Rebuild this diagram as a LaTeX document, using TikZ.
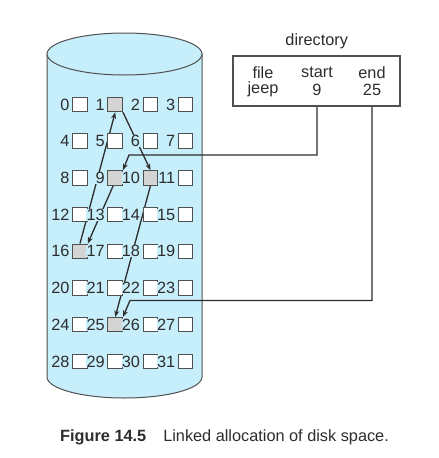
\documentclass[tikz,border=0pt]{standalone}
\usepackage{fontspec}
\setmainfont{Liberation Sans}
\usetikzlibrary{arrows.meta}
\pgfdeclarelayer{back}
\pgfdeclarelayer{mid}
\pgfsetlayers{back,mid,main}
\definecolor{cyl}{RGB}{199,238,251}
\definecolor{ink}{RGB}{45,45,45}
\definecolor{edge}{RGB}{80,80,80}
\definecolor{shadecol}{RGB}{212,212,212}
\begin{document}
\begin{tikzpicture}[x=1pt,y=-1pt,
  every node/.style={text=ink,font=\fontsize{16.3}{19}\selectfont},
  box/.style={draw=edge,fill=white,minimum size=14.5pt,inner sep=0pt,line width=1pt},
  sh1/.style={fill=shadecol}, sh9/.style={fill=shadecol}, sh10/.style={fill=shadecol},
  sh16/.style={fill=shadecol}, sh25/.style={fill=shadecol},
  lab/.style={anchor=east,inner sep=0.3pt,fill=cyl},
  link/.style={draw=ink,line width=1.3pt,-{Stealth[length=6.5pt,width=5pt]}},
  wire/.style={draw=ink,line width=1.3pt}]
\useasboundingbox (0,0) rectangle (439,458);
% cylinder
\begin{pgfonlayer}{back}
\filldraw[fill=cyl,draw=edge,line width=1pt] (47,54) -- (47,377)
  arc[start angle=180,end angle=360,x radius=77.5pt,y radius=21pt] -- (202,54) -- cycle;
\filldraw[fill=cyl,draw=edge,line width=1pt] (124.5,54) ellipse [x radius=77.5pt,y radius=21pt];
\end{pgfonlayer}
% blocks
\foreach \n in {0,...,31}{
  \pgfmathsetmacro\bx{80+35.23*mod(\n,4)}
  \pgfmathsetmacro\by{104.5+36.7*div(\n,4)}
  \node[box,sh\n/.try] (b\n) at (\bx,\by) {};
  \node[lab] (l\n) at ([xshift=-2.2pt]b\n.west) {\n};
}
% directory
\node (dirtitle) at (316.7,41.7) {directory};
\node[draw=edge,line width=1.5pt,minimum width=167pt,minimum height=50pt,inner sep=0pt] (dir) at (316.5,81) {};
\node (hfile) at (263,72.5) {file};
\node (hstart) at (317,72.5) {start};
\node (hend) at (372,72.5) {end};
\node (vjeep) at (263,89.5) {jeep};
\node (vstart) at (317,89.5) {9};
\node (vend) at (372,89.5) {25};
\coordinate (c1) at (317,155);
\coordinate (c2) at (129,155);
\coordinate (c3) at (372,300.5);
\coordinate (c4) at (130,300.5);
% links
\begin{pgfonlayer}{mid}
\draw[link] ([xshift=-2pt]b9.south) -- (b16.north east);
\draw[link] (b16.north) -- (b1.south);
\draw[link] (b1.south east) -- (b10.north);
\draw[link] (b10.south) -- (b25.north);
\draw[link] (dir.south -| vstart) -- (c1) -- (c2) -- (b9.north east);
\draw[link] (dir.south -| vend) -- (c3) -- (c4) -- (b25.north east);
\end{pgfonlayer}
% caption
\node[anchor=west,inner sep=0pt] (cap) at (60,437) {\textbf{Figure 14.5}\hspace{17pt}Linked allocation of disk space.};
\end{tikzpicture}
\end{document}
